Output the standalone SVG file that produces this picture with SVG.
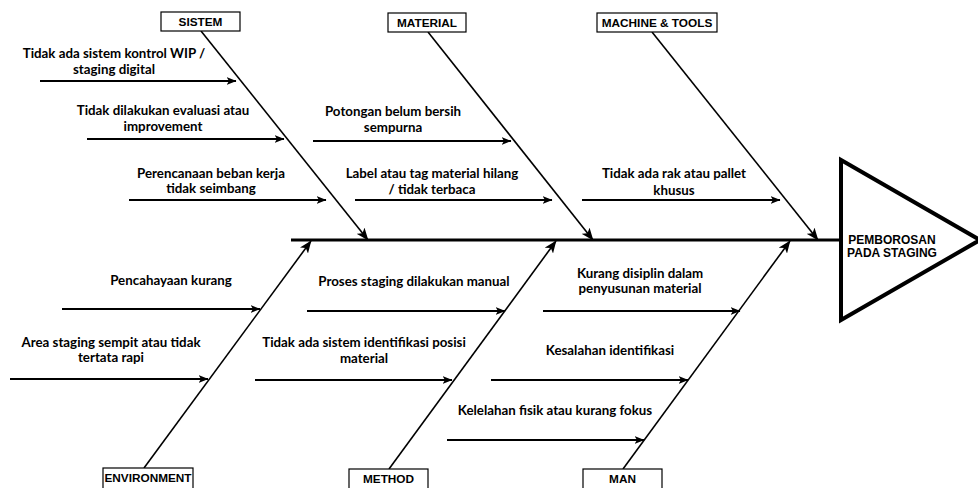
<svg xmlns="http://www.w3.org/2000/svg" width="978" height="488" viewBox="0 0 978 488">
  <defs>
    <marker id="arrow" viewBox="0 0 10 8" refX="9.5" refY="4" markerWidth="10" markerHeight="8" markerUnits="userSpaceOnUse" orient="auto">
      <path d="M0,0 L10,4 L0,8 L2.5,4 z" fill="#000"/>
    </marker>
    <marker id="arrow-big" viewBox="0 0 10 8" refX="9.5" refY="4" markerWidth="13" markerHeight="10" markerUnits="userSpaceOnUse" orient="auto">
      <path d="M0,0 L10,4 L0,8 L2.5,4 z" fill="#000"/>
    </marker>
  </defs>
  <style>
    .cat rect { fill: #fff; stroke: #000; stroke-width: 1.2; }
    .cat text { font-family: "Liberation Sans", Arial, sans-serif; font-weight: bold; font-size: 11.8px; text-anchor: middle; fill: #000; }
    .cause { font-family: Lato, "Open Sans", sans-serif; font-weight: bold; font-size: 13.3px; text-anchor: middle; fill: #000; }
    .bone { stroke: #000; stroke-width: 1.6; fill: none; marker-end: url(#arrow-big); }
    .twig { stroke: #000; stroke-width: 2; fill: none; marker-end: url(#arrow); }
    .spine { stroke: #000; stroke-width: 3; fill: none; }
    .head-text { font-family: "Liberation Sans", Arial, sans-serif; font-weight: bold; font-size: 12px; text-anchor: middle; fill: #000; }
  </style>

  <!-- main spine and category bones -->
  <g id="connectors">
    <line class="spine" x1="291" y1="240" x2="841" y2="240"/>
    <line class="bone" x1="201" y1="31" x2="368" y2="240"/>
    <line class="bone" x1="428" y1="32" x2="593" y2="240"/>
    <line class="bone" x1="652" y1="32" x2="818" y2="240"/>
    <line class="bone" x1="144" y1="468" x2="311" y2="241"/>
    <line class="bone" x1="389" y1="469" x2="556" y2="241"/>
    <line class="bone" x1="623" y1="469" x2="790" y2="241"/>

    <line class="twig" x1="40" y1="81" x2="236" y2="81"/>
    <line class="twig" x1="87" y1="139" x2="284" y2="139"/>
    <line class="twig" x1="129" y1="200" x2="326" y2="200"/>
    <line class="twig" x1="313" y1="141" x2="511" y2="141"/>
    <line class="twig" x1="355" y1="200" x2="552" y2="200"/>
    <line class="twig" x1="582" y1="200" x2="780" y2="200"/>
    <line class="twig" x1="62" y1="309" x2="260" y2="309"/>
    <line class="twig" x1="10" y1="379" x2="208" y2="379"/>
    <line class="twig" x1="307" y1="311" x2="505" y2="311"/>
    <line class="twig" x1="255" y1="380" x2="452" y2="380"/>
    <line class="twig" x1="543" y1="311" x2="740" y2="311"/>
    <line class="twig" x1="491" y1="380" x2="688" y2="380"/>
    <line class="twig" x1="447" y1="440" x2="644" y2="440"/>
  </g>

  <!-- effect head -->
  <g id="effect">
    <polygon points="841,160 841,320 980,240" fill="#fff" stroke="#000" stroke-width="4" stroke-linejoin="miter"/>
    <text class="head-text" x="892" y="244">PEMBOROSAN</text>
    <text class="head-text" x="892" y="257">PADA STAGING</text>
  </g>

  <!-- category boxes -->
  <g id="cat-sistem" class="cat">
    <rect x="161" y="12" width="79" height="19"/>
    <text x="200.5" y="26">SISTEM</text>
  </g>
  <g id="cat-material" class="cat">
    <rect x="388" y="13" width="78" height="19"/>
    <text x="427" y="27">MATERIAL</text>
  </g>
  <g id="cat-machine" class="cat">
    <rect x="597" y="13" width="120" height="19"/>
    <text x="657" y="27">MACHINE &amp; TOOLS</text>
  </g>
  <g id="cat-environment" class="cat">
    <rect x="103" y="468" width="90" height="24"/>
    <text x="148" y="482">ENVIRONMENT</text>
  </g>
  <g id="cat-method" class="cat">
    <rect x="349" y="469" width="79" height="24"/>
    <text x="388.5" y="483">METHOD</text>
  </g>
  <g id="cat-man" class="cat">
    <rect x="583" y="469" width="79" height="24"/>
    <text x="622.5" y="483">MAN</text>
  </g>

  <!-- causes -->
  <g id="cause-wip">
    <text class="cause" x="114" y="58">Tidak ada sistem kontrol WIP /</text>
    <text class="cause" x="114" y="74">staging digital</text>
  </g>
  <g id="cause-evaluasi">
    <text class="cause" x="163" y="115">Tidak dilakukan evaluasi atau</text>
    <text class="cause" x="163" y="131">improvement</text>
  </g>
  <g id="cause-beban">
    <text class="cause" x="211" y="178">Perencanaan beban kerja</text>
    <text class="cause" x="211" y="193">tidak seimbang</text>
  </g>
  <g id="cause-potongan">
    <text class="cause" x="393" y="116">Potongan belum bersih</text>
    <text class="cause" x="393" y="132">sempurna</text>
  </g>
  <g id="cause-label">
    <text class="cause" x="432" y="178">Label atau tag material hilang</text>
    <text class="cause" x="432" y="194">/ tidak terbaca</text>
  </g>
  <g id="cause-rak">
    <text class="cause" x="674" y="178">Tidak ada rak atau pallet</text>
    <text class="cause" x="674" y="195">khusus</text>
  </g>
  <g id="cause-cahaya">
    <text class="cause" x="171" y="285">Pencahayaan kurang</text>
  </g>
  <g id="cause-area">
    <text class="cause" x="111" y="347">Area staging sempit atau tidak</text>
    <text class="cause" x="111" y="362">tertata rapi</text>
  </g>
  <g id="cause-manual">
    <text class="cause" x="414" y="286">Proses staging dilakukan manual</text>
  </g>
  <g id="cause-posisi">
    <text class="cause" x="364" y="347">Tidak ada sistem identifikasi posisi</text>
    <text class="cause" x="364" y="363">material</text>
  </g>
  <g id="cause-disiplin">
    <text class="cause" x="640" y="278">Kurang disiplin dalam</text>
    <text class="cause" x="640" y="293">penyusunan material</text>
  </g>
  <g id="cause-identifikasi">
    <text class="cause" x="610" y="355">Kesalahan identifikasi</text>
  </g>
  <g id="cause-lelah">
    <text class="cause" x="555" y="415">Kelelahan fisik atau kurang fokus</text>
  </g>
</svg>
